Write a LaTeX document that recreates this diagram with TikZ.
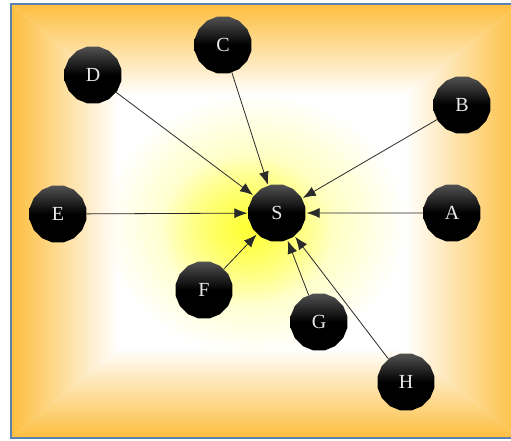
\documentclass[tikz,border=0pt]{standalone}
\usepackage{fontspec}
\setmainfont{Liberation Serif}
\usetikzlibrary{shapes.geometric,arrows.meta,fadings}
\definecolor{bgorange}{HTML}{FDBE3E}
\definecolor{framec}{HTML}{5A82B0}
\definecolor{glowy}{HTML}{FFFF20}
\definecolor{edgec}{HTML}{2A2A2A}
\definecolor{labelc}{HTML}{E8E8E8}
\tikzfading[name=glowfade, inner color=transparent!0, outer color=transparent!100]
\tikzset{
  ball/.style={regular polygon, regular polygon sides=16, minimum size=58pt,
    inner sep=0pt, top color=black!68, bottom color=black, middle color=black,
    draw=none, text=labelc, font=\fontsize{20}{24}\selectfont},
  link/.style={draw=edgec, line width=0.8pt, -{Latex[length=13pt,width=10pt]}, shorten >=1pt}
}
\begin{document}
\begin{tikzpicture}[x=1pt,y=-1pt]
\useasboundingbox (0,0) rectangle (511,441);
\clip (0,0) rectangle (511,441);
\fill[white] (0,0) rectangle (511,441);
% background box shading
\fill[white] (11,4) rectangle (520,438);
\shade[left color=bgorange, right color=white] (11,4) -- (118,95) -- (118,348) -- (11,438) -- cycle;
\shade[right color=bgorange, left color=white] (520,4) -- (405,95) -- (405,348) -- (520,438) -- cycle;
\shade[top color=bgorange, bottom color=white] (11,4) -- (520,4) -- (405,95) -- (118,95) -- cycle;
\shade[bottom color=bgorange, top color=white] (11,438) -- (520,438) -- (405,348) -- (118,348) -- cycle;
\fill[glowy, opacity=0.55, path fading=glowfade] (255,224) ellipse (150 and 130);
\fill[glowy, opacity=0.8, path fading=glowfade] (246,230) ellipse (85 and 75);
\draw[framec, line width=1.5pt] (11,4) rectangle (520,438);
% nodes
\node[ball] (S) at (277,213) {S};
\node[ball] (A) at (452,213) {A};
\node[ball] (B) at (462,105) {B};
\node[ball] (C) at (223,45) {C};
\node[ball] (D) at (93,75) {D};
\node[ball] (E) at (58,214) {E};
\node[ball] (F) at (204,290) {F};
\node[ball] (G) at (319,322) {G};
\node[ball] (H) at (406,382) {H};
% edges
\foreach \n in {A,B,C,D,E,F,G,H} \draw[link] (\n) -- (S);
\end{tikzpicture}
\end{document}
